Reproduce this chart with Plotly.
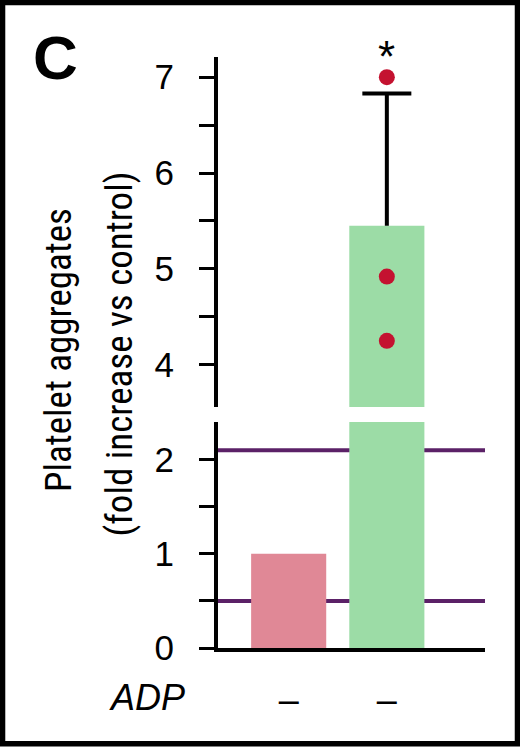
import plotly.graph_objects as go

# bar data (fold increase vs control)
x_pos = [0, 1]
adp_labels = ["–", "–"]
bar_means = [1.0, 5.45]
bar_colors = ["#E08896", "#9CDCA6"]
err_plus = [0.0, 1.38]

# individual replicates (second bar only)
rep_x = [1, 1, 1]
rep_y = [7.0, 4.92, 4.25]

# reference levels drawn across the lower panel
ref_levels = [0.5, 2.1]

# significance marker (upper-panel units)
sig_x = [1]
sig_y = [7.22]
sig_text = ["*"]

# broken axis ranges / domains
lower_range = [0, 2.4]
upper_range = [3.56, 7.21]
lower_dom = [0, 0.3824]
upper_dom = [0.4078, 1.0]

FONT = "Liberation Sans, Arial, sans-serif"
NARROW = "Liberation Sans Narrow, Roboto Condensed, Arial Narrow, sans-serif"


def upper_to_paper(v):
    frac = (v - upper_range[0]) / (upper_range[1] - upper_range[0])
    return upper_dom[0] + frac * (upper_dom[1] - upper_dom[0])


fig = go.Figure()

# lower panel bars
fig.add_trace(go.Bar(x=x_pos, y=bar_means, marker_color=bar_colors, width=0.765,
                     marker_line_width=0, yaxis="y", showlegend=False))
# upper panel bars
fig.add_trace(go.Bar(x=x_pos, y=bar_means, marker_color=bar_colors, width=0.765,
                     marker_line_width=0, yaxis="y2", showlegend=False))

# upward-only error bars (whisker + cap)
for xp, m, e in zip(x_pos, bar_means, err_plus):
    if e <= 0:
        continue
    fig.add_trace(go.Scatter(x=[xp, xp], y=[m, m + e], mode="lines", yaxis="y2",
                             line=dict(color="black", width=4), showlegend=False))
    fig.add_trace(go.Scatter(x=[xp], y=[m + e], mode="markers", yaxis="y2",
                             marker=dict(symbol="line-ew", size=35,
                                         line=dict(color="black", width=4)),
                             showlegend=False))

fig.add_trace(go.Scatter(x=rep_x, y=rep_y, mode="markers", yaxis="y2",
                         marker=dict(color="#C41230", size=16), showlegend=False))

for sx, sy, st in zip(sig_x, sig_y, sig_text):
    fig.add_annotation(x=sx, y=upper_to_paper(sy), xref="x", yref="paper", text=st,
                       showarrow=False, xanchor="center", yanchor="middle",
                       font=dict(size=44, color="black", family=FONT))

for lv in ref_levels:
    fig.add_shape(type="line", xref="x domain", yref="y", x0=0, x1=1, y0=lv, y1=lv,
                  line=dict(color="#5B2167", width=4), layer="below")

# panel letter, axis title, row label
fig.add_annotation(x=-0.61, y=1.0, xref="paper", yref="paper", text="<b>C</b>",
                   xanchor="center", yanchor="middle",
                   showarrow=False, font=dict(size=62, color="black", family=FONT))
fig.add_annotation(x=-0.60, y=0.504, xref="paper", yref="paper", text="Platelet aggregates",
                   xanchor="center", yanchor="middle",
                   textangle=-90, showarrow=False, font=dict(size=37, color="black", family=NARROW))
fig.add_annotation(x=-0.37, y=0.497, xref="paper", yref="paper",
                   text="(fold increase vs control)", textangle=-90, showarrow=False,
                   xanchor="center", yanchor="middle",
                   font=dict(size=37, color="black", family=NARROW))
fig.add_annotation(x=-0.116, y=-0.0846, xref="paper", yref="paper", text="<i>ADP</i>",
                   showarrow=False, xanchor="right", yanchor="middle",
                   font=dict(size=36, color="black", family=FONT))

# frame around the whole panel
fig.add_shape(type="rect", xref="paper", yref="paper", x0=-0.807, x1=1.1217,
              y0=-0.162, y1=1.0922, line=dict(color="black", width=5.5))

tick_common = dict(ticks="outside", ticklen=15, tickwidth=3, tickcolor="black",
                   showline=True, linecolor="black", linewidth=4, showgrid=False,
                   zeroline=False, tickfont=dict(size=35, color="black", family=FONT),
                   tickmode="linear", tick0=0, dtick=1, ticklabelstandoff=18,
                   minor=dict(tickmode="linear", tick0=0, dtick=0.5, ticks="outside",
                              ticklen=15, tickwidth=3, tickcolor="black", showgrid=False))

fig.update_layout(
    width=520, height=747,
    margin=dict(l=218, r=35, t=57, b=99),
    paper_bgcolor="white", plot_bgcolor="white",
    barmode="overlay",
    xaxis=dict(range=[-0.72, 2.0], showline=True, linecolor="black", linewidth=4,
               tickvals=x_pos, ticktext=adp_labels, ticks="", showgrid=False,
               zeroline=False, ticklabelstandoff=17,
               tickfont=dict(size=36, color="black", family=FONT)),
    yaxis=dict(domain=lower_dom, range=lower_range, anchor="x", **tick_common),
    yaxis2=dict(domain=upper_dom, range=upper_range, anchor="x", **tick_common),
)

fig.write_html("out.html", config={"displayModeBar": False},
               post_script="document.body.style.margin='0';")
